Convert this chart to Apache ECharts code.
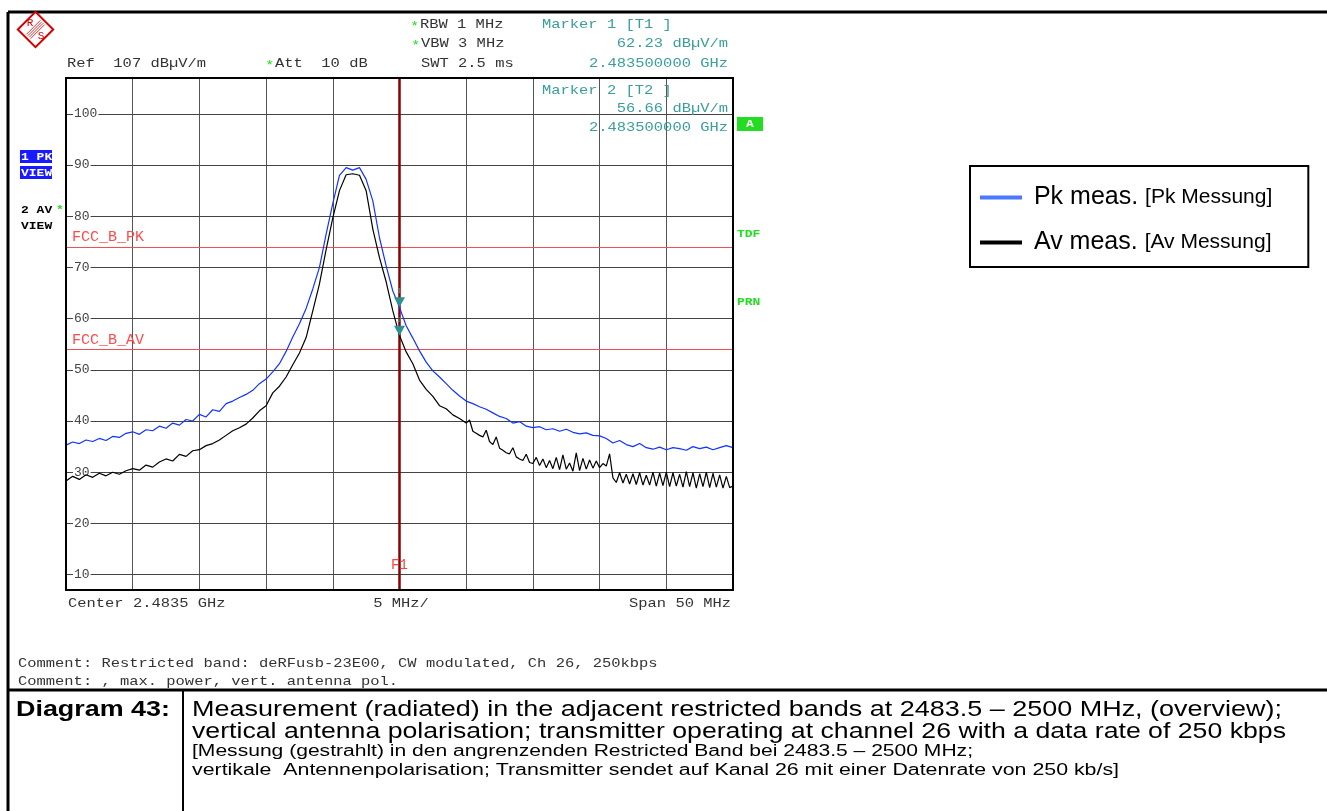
<!DOCTYPE html>
<html>
<head>
<meta charset="utf-8">
<script src="https://cdn.jsdelivr.net/npm/echarts@6/dist/echarts.min.js"></script>
<style>
html,body{margin:0;padding:0;background:#fff;}
#chart{width:1327px;height:811px;}
</style>
</head>
<body>
<div id="chart"></div>
<script>
// ---------- DATA ----------
// frequency offset from centre 2.4835 GHz, MHz
const pkFreq = [-25,-24.5,-24,-23.5,-23,-22.5,-22,-21.5,-21,-20.5,-20,-19.5,-19,-18.5,-18,-17.5,-17,-16.5,-16,-15.5,-15,-14.5,-14,-13.5,-13,-12.5,-12,-11.5,-11,-10.5,-10,-9.5,-9,-8.5,-8,-7.5,-7,-6.5,-6,-5.5,-5,-4.5,-4,-3.5,-3,-2.5,-2,-1.5,-1,-0.5,0,0.5,1,1.5,2,2.5,3,3.5,4,4.5,5,5.5,6,6.5,7,7.5,8,8.5,9,9.5,10,10.5,11,11.5,12,12.5,13,13.5,14,14.5,15,15.5,16,16.5,17,17.5,18,18.5,19,19.5,20,20.5,21,21.5,22,22.5,23,23.5,24,24.5,25];
const pkLevel = [35.3,35.9,35.6,36.3,36.0,36.6,36.2,37.0,36.8,37.6,37.9,37.4,38.3,38.1,39.0,38.6,39.6,39.2,40.3,40.0,41.3,40.8,42.2,41.9,43.4,43.9,44.6,45.2,46.0,47.3,48.2,49.6,51.2,53.6,56.4,59.0,62.0,65.8,70.0,76.5,82.5,88.0,89.5,89.0,89.5,87.2,83.0,75.8,70.3,65.4,62.2,58.6,56.2,53.7,51.5,49.8,48.6,47.3,46.0,44.9,43.9,43.4,42.8,42.3,41.6,40.9,40.5,39.6,39.9,39.0,38.7,38.9,38.3,38.5,38.0,38.4,37.8,37.5,37.7,37.2,37.1,36.6,35.7,36.2,35.4,35.0,35.6,34.8,34.5,34.9,34.4,34.8,34.6,34.3,35.0,34.6,34.9,34.4,34.8,35.2,34.8];

const avFreq = [-25,-24.5,-24,-23.5,-23,-22.5,-22,-21.5,-21,-20.5,-20,-19.5,-19,-18.5,-18,-17.5,-17,-16.5,-16,-15.5,-15,-14.5,-14,-13.5,-13,-12.5,-12,-11.5,-11,-10.5,-10,-9.5,-9,-8.5,-8,-7.5,-7,-6.5,-6,-5.5,-5,-4.5,-4,-3.5,-3,-2.5,-2,-1.5,-1,-0.5,0,0.5,1,1.5,2,2.5,3,3.5,4,4.5,5,
5.25,5.5,5.75,6,6.25,6.5,6.75,7,7.25,7.5,7.75,8,8.25,8.5,8.75,9,9.25,9.5,9.75,10,10.25,10.5,10.75,11,11.25,11.5,11.75,12,12.25,12.5,12.75,13,13.25,13.5,13.75,14,14.25,14.5,14.75,15,15.25,15.5,15.75,16,16.25,16.5,16.75,17,17.25,17.5,17.75,18,18.25,18.5,18.75,19,19.25,19.5,19.75,20,20.25,20.5,20.75,21,21.25,21.5,21.75,22,22.25,22.5,22.75,23,23.25,23.5,23.75,24,24.25,24.5,24.75,25];
const avLevel = [28.3,29.2,28.6,29.5,29.0,29.8,29.3,30.0,29.6,30.3,30.7,30.4,31.4,31.0,32.0,32.6,32.2,33.5,33.1,34.2,34.4,35.2,35.6,36.3,37.2,38.1,38.7,39.4,40.6,42.0,43.0,45.5,46.8,48.6,51.0,53.3,56.3,61.5,66.8,73.5,79.7,85.0,88.1,88.3,88.0,85.0,77.5,71.9,67.2,61.5,56.7,53.5,51.2,48.0,46.2,44.8,43.0,42.4,41.2,40.5,39.6,
40.2,38.0,37.6,37.2,36.9,38.2,36.0,35.4,36.9,34.7,34.3,33.8,33.6,34.8,33.0,32.6,32.3,33.5,31.9,31.7,32.9,31.3,32.6,30.9,32.3,30.7,32.9,30.5,33.4,30.6,31.8,30.2,33.8,30.3,32.7,30.6,32.4,30.8,32.2,30.9,31.7,31.2,33.6,28.9,28.0,29.9,27.9,29.6,27.7,29.7,27.6,29.9,27.5,29.4,27.5,30.0,27.3,29.8,27.4,30.0,27.2,29.9,27.3,29.6,27.1,30.1,27.2,29.9,26.9,29.7,27.2,30.0,27.0,29.8,27.1,29.5,26.9,29.2,27.0,27.3];

const seriesNames = ['Pk meas.', 'Av meas.'];
const seriesNamesDe = ['[Pk Messung]', '[Av Messung]'];
const yTicks = [10,20,30,40,50,60,70,80,90,100];
const limitNames = ['FCC_B_PK', 'FCC_B_AV'];
const limitLevels = [74, 54];
const markerTags = ['1', '2'];
const markerFreqs = [0, 0];
const markerLevels = [62.23, 56.66];
const f1Freq = 0;
const f1LabelLevel = 11.9;

// ---------- helpers ----------
const MONO = "'Liberation Mono', 'DejaVu Sans Mono', monospace";
const SANS = "'Liberation Sans', Arial, sans-serif";
const mctx = document.createElement('canvas').getContext('2d');
function measure(s, font){ mctx.font = font; return mctx.measureText(s).width; }
function txt(x, y, s, color, font, sx, align){
  return {type:'text', x:x, y:y, scaleX:sx, z:50, silent:true,
    style:{text:s, font:font, fill:color, textAlign:align||'left', textVerticalAlign:'middle', align:align||'left', verticalAlign:'middle'}};
}
function mono(x, y, s, color, opt){
  opt = opt || {};
  const font = (opt.weight||'normal') + ' ' + (opt.size||13) + 'px ' + MONO;
  const cw = opt.cw || 9.27;
  const sx = (s.length*cw)/measure(s, font);
  return txt(x, y, s, color, font, sx, opt.align);
}
function sans(x, y, s, size, weight, target){
  const font = weight + ' ' + size + 'px ' + SANS;
  const sx = target/measure(s, font);
  return txt(x, y, s, '#000', font, sx, 'left');
}

const TEAL = '#3a9e9a';
const GREEN = '#22dd22';
const GRAY = '#333';

const gr = [];
// frame
gr.push({type:'line', z:40, silent:true, shape:{x1:8,y1:12,x2:1327,y2:12}, style:{stroke:'#000', lineWidth:3}});
gr.push({type:'line', z:40, silent:true, shape:{x1:8,y1:12,x2:8,y2:811}, style:{stroke:'#000', lineWidth:3}});
gr.push({type:'line', z:40, silent:true, shape:{x1:8,y1:690,x2:1327,y2:690}, style:{stroke:'#000', lineWidth:3}});
gr.push({type:'line', z:40, silent:true, shape:{x1:183,y1:690,x2:183,y2:811}, style:{stroke:'#000', lineWidth:2}});
// R&S logo
gr.push({type:'rect', z:40, silent:true, x:35.5, y:29.5, rotation:Math.PI/4, shape:{x:-12.5,y:-12.5,width:25,height:25}, style:{stroke:'#d40000', fill:'#fff', lineWidth:2}});
[-3,-1,1,3].forEach(function(d){
  const ox = d/Math.SQRT2, oy = d/Math.SQRT2;
  gr.push({type:'line', z:41, silent:true, shape:{x1:44+ox-1.5,y1:21+oy+1.5,x2:27+ox+1.5,y2:38+oy-1.5}, style:{stroke:'#d40000', lineWidth:0.8}});
});
gr.push({type:'text', z:42, silent:true, x:30, y:23, style:{text:'R', font:'11px '+MONO, fill:'#d40000', textAlign:'center', textVerticalAlign:'middle', align:'center', verticalAlign:'middle'}});
gr.push({type:'text', z:42, silent:true, x:41, y:36, style:{text:'S', font:'11px '+MONO, fill:'#d40000', textAlign:'center', textVerticalAlign:'middle', align:'center', verticalAlign:'middle'}});

// header
gr.push(mono(410, 27, '*', GREEN));
gr.push(mono(420, 25, 'RBW 1 MHz', GRAY));
gr.push(mono(411, 46, '*', GREEN));
gr.push(mono(421, 44, 'VBW 3 MHz', GRAY));
gr.push(mono(421, 64, 'SWT 2.5 ms', GRAY));
gr.push(mono(67, 64, 'Ref  107 dB\u00b5V/m', GRAY));
gr.push(mono(265, 66, '*', GREEN));
gr.push(mono(275, 64, 'Att  10 dB', GRAY));
gr.push(mono(542, 25, 'Marker 1 [T1 ]', TEAL));
gr.push(mono(728, 44, '62.23 dB\u00b5V/m', TEAL, {align:'right'}));
gr.push(mono(728, 64, '2.483500000 GHz', TEAL, {align:'right'}));
gr.push(mono(542, 91, 'Marker 2 [T2 ]', TEAL));
gr.push(mono(728, 109, '56.66 dB\u00b5V/m', TEAL, {align:'right'}));
gr.push(mono(728, 128, '2.483500000 GHz', TEAL, {align:'right'}));
// bottom axis text
gr.push(mono(68, 604, 'Center 2.4835 GHz', GRAY));
gr.push(mono(401, 604, '5 MHz/', GRAY, {align:'center'}));
gr.push(mono(731, 604, 'Span 50 MHz', GRAY, {align:'right'}));
// comments
gr.push(mono(18, 664, 'Comment: Restricted band: deRFusb-23E00, CW modulated, Ch 26, 250kbps', GRAY));
gr.push(mono(18, 682, 'Comment: , max. power, vert. antenna pol.', GRAY));
// left tags
gr.push({type:'rect', z:40, silent:true, shape:{x:20,y:150,width:32,height:13}, style:{fill:'#1a1aff'}});
gr.push({type:'rect', z:40, silent:true, shape:{x:20,y:166,width:32,height:13}, style:{fill:'#1a1aff'}});
gr.push(mono(21, 157, '1 PK', '#fff', {weight:'bold', size:10, cw:7.8}));
gr.push(mono(21, 173, 'VIEW', '#fff', {weight:'bold', size:10, cw:7.8}));
gr.push(mono(21, 210, '2 AV', '#000', {weight:'bold', size:10, cw:7.8}));
gr.push(mono(56, 210, '*', GREEN, {weight:'bold', size:10, cw:7.8}));
gr.push(mono(21, 226, 'VIEW', '#000', {weight:'bold', size:10, cw:7.8}));
// right tags
gr.push({type:'rect', z:40, silent:true, shape:{x:737,y:117,width:26,height:14}, style:{fill:GREEN}});
gr.push(mono(750, 124, 'A', '#fff', {weight:'bold', size:10, cw:7.8, align:'center'}));
gr.push(mono(737, 234, 'TDF', GREEN, {weight:'bold', size:10, cw:7.8}));
gr.push(mono(737, 302, 'PRN', GREEN, {weight:'bold', size:10, cw:7.8}));
// caption
gr.push(sans(16, 710, 'Diagram 43:', 22, 'bold', 154));
gr.push(sans(192, 710, 'Measurement (radiated) in the adjacent restricted bands at 2483.5 \u2013 2500 MHz, (overview);', 22, 'normal', 1090));
gr.push(sans(192, 732, 'vertical antenna polarisation; transmitter operating at channel 26 with a data rate of 250 kbps', 22, 'normal', 1094));
gr.push(sans(192, 752, '[Messung (gestrahlt) in den angrenzenden Restricted Band bei 2483.5 \u2013 2500 MHz;', 16, 'normal', 781));
gr.push(sans(192, 771, 'vertikale  Antennenpolarisation; Transmitter sendet auf Kanal 26 mit einer Datenrate von 250 kb/s]', 16, 'normal', 927));

const markerPoints = markerLevels.map(function(v, i){
  return {coord:[markerFreqs[i], v], symbol:'triangle', symbolRotate:180, symbolSize:[11,10], symbolOffset:[0,-5],
    itemStyle:{color:'#2a9290'}, label:{show:true, position:'top', distance:2, formatter:markerTags[i], color:TEAL, fontSize:8, fontFamily:MONO}};
});

const option = {
  animation: false,
  backgroundColor: '#fff',
  grid: {left:66, top:78, width:667, height:512, show:true, borderColor:'#000', borderWidth:2, backgroundColor:'transparent', z:10},
  xAxis: {type:'value', min:-25, max:25, interval:5,
    axisLine:{show:false}, axisTick:{show:false}, axisLabel:{show:false},
    splitLine:{show:true, lineStyle:{color:'#555', width:1}}},
  yAxis: {type:'value', min:7, max:107, z:1.5,
    axisLine:{show:false}, axisTick:{show:false}, splitLine:{show:false},
    axisLabel:{inside:true, customValues:yTicks, margin:7, color:'#444', fontFamily:MONO, fontSize:13,
      backgroundColor:'#fff', padding:[0,1,0,1]}},
  legend: {
    data:[{name:seriesNames[0], itemStyle:{color:'#4a78ff'}}, {name:seriesNames[1], itemStyle:{color:'#000'}}],
    orient:'vertical', left:970, top:166, icon:'rect', itemWidth:42, itemHeight:4, itemGap:20,
    padding:[19,36,12,10], borderColor:'#000', borderWidth:2, backgroundColor:'#fff', selectedMode:false,
    formatter: function(name){ const i = seriesNames.indexOf(name); return ' {a|' + name + '} {b|' + seriesNamesDe[i] + '}'; },
    textStyle:{fontSize:25, fontFamily:SANS, color:'#000', lineHeight:22,
      rich:{a:{fontSize:25, fontFamily:SANS, color:'#000', lineHeight:22}, b:{fontSize:21, fontFamily:SANS, color:'#000', lineHeight:22}}}
  },
  graphic: {elements: gr},
  series: [
    {type:'line', name:'gridlines', data:[], silent:true,
      markLine:{silent:true, z:1, symbol:['none','none'], label:{show:false}, emphasis:{disabled:true},
        lineStyle:{color:'#444', width:1, type:'solid'}, data: yTicks.map(function(v){ return {yAxis:v}; })}},
    {type:'line', name:seriesNames[0], z:3, showSymbol:false, symbol:'none',
      data: pkFreq.map(function(f, i){ return [f, pkLevel[i]]; }),
      lineStyle:{color:'#1233ff', width:1.2}, itemStyle:{color:'#1233ff'},
      markLine:{silent:true, z:1.6, symbol:['none','none'], emphasis:{disabled:true},
        lineStyle:{color:'#f05050', width:1, type:'solid'},
        label:{show:true, position:'insideStartTop', formatter:'{b}', color:'#ff4a4a', fontFamily:MONO, fontSize:15, distance:[6,2]},
        data: limitLevels.map(function(v, i){ return {yAxis:v, name:limitNames[i]}; })},
      markPoint:{silent:true, data:[markerPoints[0]]}},
    {type:'line', name:seriesNames[1], z:4, showSymbol:false, symbol:'none',
      data: avFreq.map(function(f, i){ return [f, avLevel[i]]; }),
      lineStyle:{color:'#000', width:1.2}, itemStyle:{color:'#000'},
      markLine:{silent:true, z:1.7, symbol:['none','none'], emphasis:{disabled:true},
        lineStyle:{color:'#8b0000', width:2.5, type:'solid'}, label:{show:false},
        data:[{xAxis:f1Freq}]},
      markPoint:{silent:true, data:[markerPoints[1],
        {coord:[f1Freq, f1LabelLevel], symbol:'rect', symbolSize:1, itemStyle:{color:'rgba(0,0,0,0)'},
          label:{show:true, position:'inside', formatter:'F1', color:'#ff4040', fontFamily:MONO, fontSize:14}}]}}
  ]
};

const chart = echarts.init(document.getElementById('chart'), null, {renderer:'canvas'});
chart.setOption(option);
</script>
</body>
</html>
